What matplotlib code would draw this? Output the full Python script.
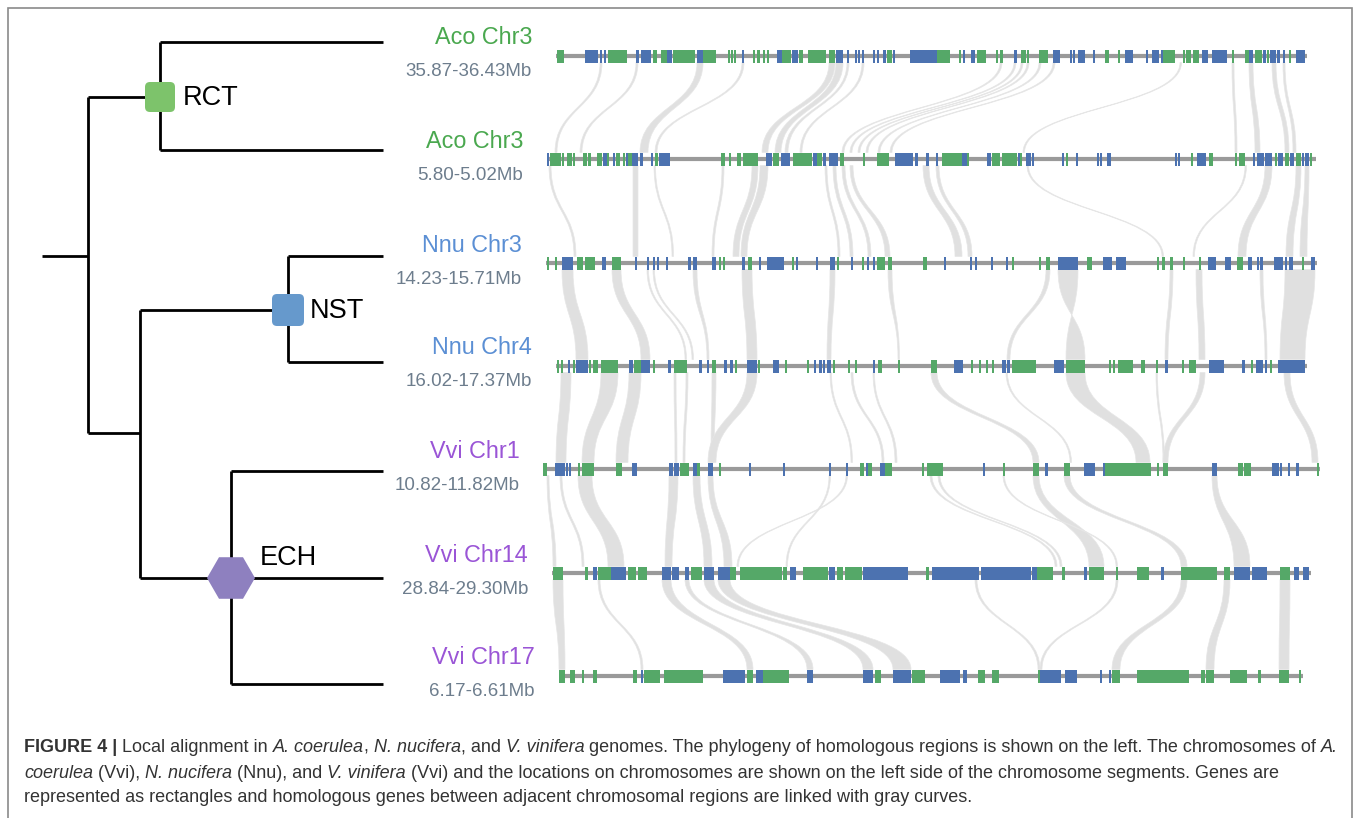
import numpy as np
import matplotlib
matplotlib.use("Agg")
import matplotlib.pyplot as plt
from matplotlib.path import Path
from matplotlib.patches import PathPatch, Rectangle, FancyBboxPatch, RegularPolygon

plt.rcParams['font.family'] = ['Liberation Sans', 'DejaVu Sans']

G, B = "g", "b"
gene_colors = {G: "#55a868", B: "#4c72b0"}

# chromosome segments (top to bottom)
track_names = ["Aco Chr3", "Aco Chr3", "Nnu Chr3", "Nnu Chr4", "Vvi Chr1", "Vvi Chr14", "Vvi Chr17"]
track_ranges = ["35.87-36.43Mb", "5.80-5.02Mb", "14.23-15.71Mb", "16.02-17.37Mb",
                "10.82-11.82Mb", "28.84-29.30Mb", "6.17-6.61Mb"]
name_colors = ["#4aa84f", "#4aa84f", "#5b8fd4", "#5b8fd4", "#9a55d6", "#9a55d6", "#9a55d6"]
track_y = [56, 159, 263, 366, 469, 573, 676]
track_start = [556, 547, 546, 556, 544, 552, 559]
track_end = [1307, 1316, 1317, 1307, 1320, 1311, 1303]

genes_aco3a = [(557,564,G),(585,598,B),(600,602,B),(604,606,B),(608,627,G),(636,639,B),(641,651,B),(653,657,G),
    (661,667,G),(667,672,B),(673,695,G),(697,703,B),(703,716,G),(728,729.5,G),(731,732.5,G),(734,735.5,G),
    (742,744,B),(753,755,G),(757,760,G),(763,765,G),(767,769,G),(777,782,B),(782,791,G),(792,798,B),(799,803,G),
    (808,826,G),(829,835,G),(836,843,B),(847,849,B),(855,856.5,B),(858,860,B),(862,864,B),(873,874.5,B),
    (877,879,B),(883,886,B),(887,892,G),(893,894.5,B),(910,928,B),(928,937,B),(937,950,G),(959,961,G),
    (963,965,B),(971,975,B),(977,986,G),(996,997.5,G),(1000,1003,G),(1014,1017,B),(1021,1026,G),(1027,1029,G),
    (1039,1048,G),(1053,1060,B),(1070,1072,B),(1073,1075,B),(1078,1085,B),(1093,1095,B),(1105,1109,G),
    (1118,1119.5,G),(1125,1133,B),(1146,1147.5,B),(1152,1159,B),(1161,1163,B),(1163,1175,G),(1183,1185,G),
    (1186,1191,G),(1193,1199,G),(1202,1208,B),(1212,1227,B),(1232,1234,G),(1245,1250,G),(1249,1253,B),
    (1255,1262,G),(1263,1266,B),(1267,1269,G),(1270,1276,B),(1277,1280,B),(1283,1285,B),(1289,1291,G),
    (1296,1305,B)]
genes_aco3b = [(547,549,B),(550,561,G),(562,564,G),(567,572,G),(573,575,G),(583,587,G),(588,591,G),(597,602,G),
    (603,607,B),(607,609,G),(613,615,B),(616,620,G),(623,625,G),(626,627.5,B),(627.5,632,G),(632,638,B),
    (640,643,B),(651,653,B),(655,658,G),(659,670,B),(721,725,G),(729,731,G),(737,741,G),(743,758,G),(766,772,B),
    (773,779,G),(781,790,B),(793,812,G),(813,817,B),(817,822,G),(823,826,B),(829,838,B),(840,844,G),(863,865,G),
    (877,889,G),(895,913,B),(915,918,B),(926,929,B),(936,938,B),(942,962,G),(962,967,B),(967,969,G),(987,991,B),
    (992,1000,G),(1002,1017,G),(1018,1020,B),(1020,1022,G),(1026,1031,B),(1032,1034,B),(1062,1064,B),
    (1066,1068,G),(1076,1078,B),(1097,1099,B),(1100,1101.5,B),(1107,1111,B),(1175,1176.5,B),(1178,1180,B),
    (1191,1192.5,G),(1197,1206,B),(1209,1213,G),(1235,1237,G),(1239,1245,G),(1253,1255,B),(1257,1264,B),
    (1265,1272,B),(1275,1277,G),(1278,1283,B),(1285,1289,G),(1290,1294,B),(1296,1301,G),(1302,1304,B),
    (1305,1309,B),(1310,1311.5,G)]
genes_nnu3 = [(547,549,G),(555,557,G),(562,573,B),(577,583,G),(585,595,G),(602,606,B),(612,621,G),(635,637,B),
    (647,648.5,B),(653,654.5,B),(657,658.5,B),(666,668,B),(688,691,B),(693,697,B),(712,716,B),(719,721,G),
    (723,725,G),(742,745,B),(748,752,G),(759,760.5,B),(767,784,B),(792,793.5,G),(796,797.5,B),(816,818,B),
    (830,835,B),(837,839,G),(851,852.5,B),(862,863.5,G),(867,868.5,B),(873,875,B),(877,885,G),(888,892,G),
    (923,927,G),(944,946,B),(970,971.5,B),(975,977,B),(991,992.5,B),(1006,1007.5,B),(1012,1014,G),
    (1039,1041,G),(1046,1050,G),(1058,1078,B),(1087,1092,G),(1103,1112,B),(1116,1126,B),(1157,1159,G),
    (1162,1165,G),(1170,1173,G),(1183,1184.5,G),(1199,1200.5,G),(1208,1216,B),(1225,1231,B),(1237,1243,G),
    (1248,1252,B),(1257,1258.5,B),(1260,1263,B),(1274,1283,B),(1285,1287,B),(1289,1293,B),(1302,1303.5,G),
    (1311,1315,B)]
genes_nnu4 = [(557,559,G),(561,562.5,G),(568,569.5,B),(573,574.5,G),(576,588,B),(589,591,G),(593,598,G),
    (601,618,G),(629,633,B),(634,641,G),(641,650,B),(653,655,G),(668,671,B),(674,687,G),(699,702,B),(707,709,B),
    (712,716,G),(724,727,B),(730,733,B),(735,737,G),(747,757,B),(758,760,G),(773,779,B),(785,787,G),
    (807,808.5,G),(814,816,B),(819,822,B),(823,825,B),(827,831,B),(833,835,G),(848,850,G),(855,857,G),
    (873,874.5,B),(878,882,G),(898,899.5,G),(931,937,G),(954,963,B),(971,972.5,G),(979,980.5,G),(986,987.5,G),
    (992,994,G),(1002,1006,B),(1007,1010,B),(1012,1036,G),(1054,1064,B),(1066,1085,G),(1109,1110.5,G),
    (1113,1114.5,G),(1118,1133,G),(1141,1145,G),(1156,1157.5,G),(1165,1168,B),(1182,1183.5,G),(1189,1196,G),
    (1209,1224,B),(1242,1245,B),(1251,1252.5,G),(1256,1263,B),(1265,1267,B),(1270,1271.5,G),(1278,1305,B)]
genes_vvi1 = [(543,547,G),(555,565,B),(566,568,B),(569,571,B),(578,580,G),(582,594,G),(616,622,G),(632,637,B),
    (669,673,B),(674,677,B),(677,678.5,B),(680,689,G),(693,697,B),(697,700,G),(708,713,B),(719,720.5,G),
    (749,751,B),(783,785,B),(829,830.5,B),(846,847.5,B),(860,864,G),(866,867.5,B),(867.5,872,G),(880,885,B),
    (885,892,G),(922,924,G),(927,943,G),(983,984.5,B),(1003,1004.5,G),(1033,1039,G),(1045,1048,B),
    (1064,1070,G),(1084,1095,B),(1103,1105,B),(1105,1148,G),(1148,1151,G),(1157,1158.5,G),(1163,1168,G),
    (1212,1217,B),(1238,1243,G),(1244,1251,G),(1272,1279,B),(1280,1282,B),(1288,1289.5,B),(1296,1299,B),
    (1317,1318.5,G)]
genes_vvi14 = [(553,563,G),(585,588,G),(593,597,B),(598,611,G),(611,626,B),(628,636,G),(638,647,G),(662,671,B),
    (672,679,B),(685,689,B),(691,702,G),(704,714,B),(718,730,B),(730,736,G),(740,782,G),(783,787,G),(790,796,B),
    (803,828,G),(829,835,B),(837,843,G),(845,862,G),(863,908,B),(926,929,G),(932,979,B),(981,1031,B),
    (1032,1037,B),(1037,1053,G),(1062,1065,G),(1084,1087,B),(1089,1104,G),(1116,1118,G),(1137,1149,G),
    (1161,1164,B),(1181,1187,G),(1187,1217,G),(1224,1230,G),(1234,1250,B),(1252,1267,B),(1280,1290,G),
    (1294,1299,B),(1303,1309,B)]
genes_vvi17 = [(559,565,G),(570,575,G),(582,583.5,G),(593,597,G),(633,637,G),(641,643,B),(644,660,G),(664,703,G),
    (723,745,B),(747,753,G),(756,763,B),(763,789,G),(807,813,B),(863,873,B),(875,881,G),(893,911,B),(912,925,G),
    (940,960,B),(963,967,B),(978,985,G),(992,999,G),(1038,1040,G),(1040,1061,B),(1065,1077,B),(1100,1101.5,B),
    (1109,1111,B),(1112,1120,G),(1137,1189,G),(1201,1205,G),(1206,1214,G),(1230,1247,G),(1258,1261,G),
    (1279,1289,G),(1299,1301,G)]
track_genes = [genes_aco3a, genes_aco3b, genes_nnu3, genes_nnu4, genes_vvi1, genes_vvi14, genes_vvi17]

# homologous links between adjacent segments: (upper start, upper end, lower start, lower end)
links_12 = [(600,602,555,557),(636,638,580,582),(697,703,640,648),(742,744,655,657),(829,835,762,768),
    (836,843,775,781),(847,849,785,788),(862,864,800,802),(1000,1002,842,844),(1014,1016,850,852),
    (1021,1023,858,860),(1027,1029,866,868),(1039,1041,878,880),(1053,1055,890,892),(1180,1181.5,1023,1024.5),
    (1232,1234,1235,1237),(1249,1253,1255,1260),(1272,1276,1285,1289),(1283,1285,1293,1296)]
links_23 = [(549,551,574,576),(633,638,633,638),(654,655.5,672,673.5),(722,724,712,714),(752,758,733,739),
    (760,768,741,747),(825,827,838,840),(833,836,850,853),(842,845,868,871),(850,853,885,890),
    (923,929,955,962),(936,939,968,972),(1027,1028.5,1162,1163.5),(1245,1246.5,1193,1194.5),
    (1265,1272,1238,1246),(1296,1301,1286,1293),(1305,1309,1300,1307)]
links_34 = [(562,573,576,588),(612,621,641,650),(647,648.5,685,686.5),(653,654.5,692,693.5),(693,697,707,709),
    (742,752,747,757),(830,835,827,831),(888,892,898,899.5),(1046,1050,1007,1010),(1058,1078,1085,1066),
    (1170,1173,1165,1168),(1196,1202,1199,1205),(1260,1263,1265,1267),(1285,1315,1280,1305)]
links_45 = [(561,571,556,566),(601,618,582,594),(629,641,616,628),(674,676,675,677),(686,688,683,685),
    (712,716,711,714),(747,757,708,716),(830,831.5,851,852.5),(851,853,882,884),(873,874.5,895,897),
    (931,937,1033,1039),(1006,1007.5,1070,1071.5),(1066,1085,1136,1150),(1156,1157.5,1163,1164.5),
    (1200,1205,1163,1168),(1284,1290,1312,1318)]
links_56 = [(547,549,553,556),(578,592,608,624),(560,562,582,584),(669,678,665,672),(693,700,704,712),
    (708,713,724,732),(846,847.5,737,738.5),(829,830.5,786,787.5),(930,932,1055,1057),(938,940,1060,1062),
    (1033,1039,1089,1104),(1064,1070,1181,1187),(1003,1004.5,1116,1117.5),(1212,1217,1234,1250)]
links_67 = [(553,563,559,565),(598,600,641,643),(662,671,747,753),(685,689,807,813),(704,714,863,873),
    (718,730,893,911),(975,977,1038,1040),(1116,1118,1040,1042),(1181,1187,1112,1120),(1224,1230,1206,1214),
    (1280,1290,1279,1289)]
track_links = [links_12, links_23, links_34, links_45, links_56, links_67]

# phylogeny
leaf_y = [42, 150, 256, 362, 471, 578, 684]
leaf_x = 383
root_x0, root_x = 42, 88
rct_x, low_x, nst_x, ech_x = 160, 140, 288, 231

caption = [
    [("FIGURE 4 |", "b"), (" Local alignment in ", "n"), ("A. coerulea", "i"), (", ", "n"), ("N. nucifera", "i"),
     (", and ", "n"), ("V. vinifera", "i"),
     (" genomes. The phylogeny of homologous regions is shown on the left. The chromosomes of ", "n"), ("A.", "i")],
    [("coerulea", "i"), (" (Vvi), ", "n"), ("N. nucifera", "i"), (" (Nnu), and ", "n"), ("V. vinifera", "i"),
     (" (Vvi) and the locations on chromosomes are shown on the left side of the chromosome segments. Genes are", "n")],
    [("represented as rectangles and homologous genes between adjacent chromosomal regions are linked with gray curves.", "n")],
]
caption_y = [747, 773, 798]

W, H = 1358, 818
fig = plt.figure(figsize=(W / 100, H / 100), dpi=100)
ax = fig.add_axes([0, 0, 1, 1])
ax.set_xlim(0, W)
ax.set_ylim(H, 0)
ax.axis("off")

# frame
ax.plot([8, 8, 1352, 1352], [H, 8, 8, H], color="#8a8a8a", lw=1.2, solid_joinstyle="miter")

# links
def ribbon(a0, a1, b0, b1, y0, y1):
    ym = (y0 + y1) / 2
    verts = [(a0, y0), (a0, ym), (b0, ym), (b0, y1), (b1, y1), (b1, ym), (a1, ym), (a1, y0), (a0, y0)]
    codes = [Path.MOVETO, Path.CURVE4, Path.CURVE4, Path.CURVE4, Path.LINETO,
             Path.CURVE4, Path.CURVE4, Path.CURVE4, Path.CLOSEPOLY]
    return Path(verts, codes)

gh = 6.5
for i, links in enumerate(track_links):
    y0 = track_y[i] + gh
    y1 = track_y[i + 1] - gh
    for a0, a1, b0, b1 in links:
        ax.add_patch(PathPatch(ribbon(a0, a1, b0, b1, y0, y1), facecolor="#e0e0e0",
                               edgecolor="#e6e6e6", lw=0.5, zorder=1))

# chromosome backbones and genes
for i, genes in enumerate(track_genes):
    y = track_y[i]
    ax.plot([track_start[i], track_end[i]], [y, y], color="#9a9a9a", lw=3, zorder=2, solid_capstyle="butt")
    for s, e, c in genes:
        ax.add_patch(Rectangle((s, y - gh), e - s, 2 * gh, facecolor=gene_colors[c],
                               edgecolor="none", zorder=3))
    ax.text(track_start[i] - 24, y - 18, track_names[i], color=name_colors[i], fontsize=16.8,
            ha="right", va="center")
    ax.text(track_start[i] - 24, y + 16, track_ranges[i], color="#6d7d8d", fontsize=13.5,
            ha="right", va="center")

# tree
tk = dict(color="black", lw=2.0, zorder=2, solid_capstyle="butt")
rct_y = (leaf_y[0] + leaf_y[1]) / 2 + 1
nst_y = (leaf_y[2] + leaf_y[3]) / 2 + 1
ech_y = leaf_y[5]
low_y = 433
root_y = leaf_y[2]
ax.plot([root_x0, root_x], [root_y, root_y], **tk)
ax.plot([root_x, root_x], [rct_y, low_y], **tk)
ax.plot([root_x, rct_x], [rct_y, rct_y], **tk)
ax.plot([rct_x, rct_x], [leaf_y[0], leaf_y[1]], **tk)
ax.plot([root_x, low_x], [low_y, low_y], **tk)
ax.plot([low_x, low_x], [nst_y, ech_y], **tk)
ax.plot([low_x, nst_x], [nst_y, nst_y], **tk)
ax.plot([nst_x, nst_x], [leaf_y[2], leaf_y[3]], **tk)
ax.plot([low_x, ech_x], [ech_y, ech_y], **tk)
ax.plot([ech_x, ech_x], [leaf_y[4], leaf_y[6]], **tk)
for k, ly in enumerate(leaf_y):
    px = [rct_x, rct_x, nst_x, nst_x, ech_x, ech_x, ech_x][k]
    ax.plot([px, leaf_x], [ly, ly], **tk)

ax.add_patch(FancyBboxPatch((rct_x - 15, rct_y - 15), 30, 30, boxstyle="round,pad=0,rounding_size=5",
                            facecolor="#7dc36b", edgecolor="none", zorder=4))
ax.add_patch(FancyBboxPatch((nst_x - 16, nst_y - 16), 32, 32, boxstyle="round,pad=0,rounding_size=5",
                            facecolor="#6699cc", edgecolor="none", zorder=4))
ax.add_patch(RegularPolygon((ech_x, ech_y), numVertices=6, radius=24, orientation=np.pi / 6,
                            facecolor="#8e80bf", edgecolor="none", zorder=4))
ax.text(rct_x + 23, rct_y + 1, "RCT", fontsize=19.5, ha="left", va="center", color="black")
ax.text(nst_x + 22, nst_y + 1, "NST", fontsize=19.5, ha="left", va="center", color="black")
ax.text(ech_x + 29, ech_y - 20, "ECH", fontsize=19.5, ha="left", va="center", color="black")

# caption
renderer = fig.canvas.get_renderer()

def style_kw(st, size):
    kw = dict(fontsize=size, color="#333333", va="center", ha="left")
    if st == "b":
        kw["fontweight"] = "bold"
    if st == "i":
        kw["fontstyle"] = "italic"
    return kw

def piece_width(txt, kw):
    t = ax.text(0, 0, txt + "|", **kw)
    w1 = t.get_window_extent(renderer).width
    t.set_text("|")
    w2 = t.get_window_extent(renderer).width
    t.remove()
    return w1 - w2

base = 12
w_line1 = sum(piece_width(t, style_kw(s, base)) for t, s in caption[0])
cap_size = base * (1337 - 24) / w_line1

for line, y in zip(caption, caption_y):
    x = 24
    for txt, st in line:
        kw = style_kw(st, cap_size)
        ax.text(x, y, txt, **kw)
        x += piece_width(txt, kw)

fig.savefig("out.png", dpi=100)
